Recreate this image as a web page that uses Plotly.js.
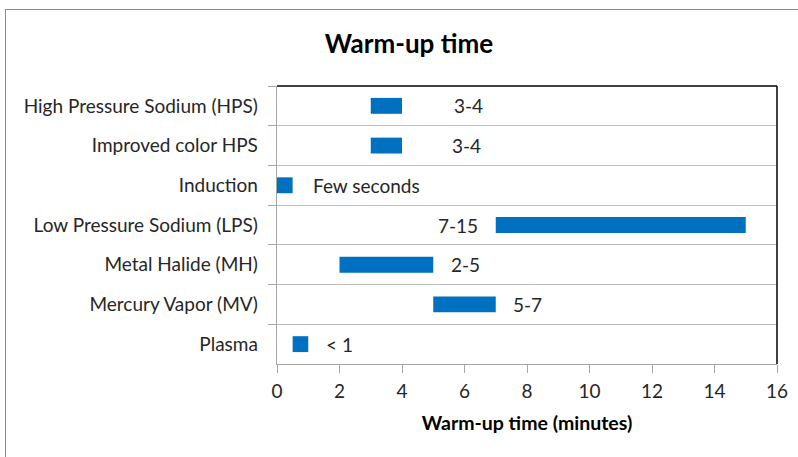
<!DOCTYPE html>
<html>
<head>
<meta charset="utf-8">
<script src="https://cdn.plot.ly/plotly-3.0.1.min.js"></script>
<style>
  html, body { margin: 0; padding: 0; background: #fff; }
  #chart { width: 798px; height: 457px; position: absolute; left: 0; top: 0; }
  #frame { position: absolute; left: 5px; top: 9px; width: 800px; height: 460px; border: 1px solid #8c8c8c; pointer-events: none; }
</style>
</head>
<body>
<div id="chart"></div>
<div id="frame"></div>
<script>
// Data
const categories = [
  "High Pressure Sodium (HPS)",
  "Improved color HPS",
  "Induction",
  "Low Pressure Sodium (LPS)",
  "Metal Halide (MH)",
  "Mercury Vapor (MV)",
  "Plasma"
];
const startMinutes = [3, 3, 0, 7, 2, 5, 0.5];
const endMinutes   = [4, 4, 0.5, 15, 5, 7, 1];
const labelText    = ["3-4", "3-4", "Few seconds", "7-15", "2-5", "5-7", "< 1"];
const labelX       = [5.6, 5.55, 1.1, 6.5, 5.5, 7.5, 1.5];
const labelAnchor  = ["left", "left", "left", "right", "left", "left", "left"];
const xTicks       = [0, 2, 4, 6, 8, 10, 12, 14, 16];

const FONT = "Lato, 'Open Sans', sans-serif";
const durations = endMinutes.map((e, i) => e - startMinutes[i]);

const trace = {
  type: "bar",
  orientation: "h",
  y: categories,
  x: durations,
  base: startMinutes,
  width: 0.4,
  marker: { color: "#0070C0" },
  hoverinfo: "skip"
};

const annotations = categories.map((c, i) => ({
  x: labelX[i], y: c, xref: "x", yref: "y",
  text: labelText[i], showarrow: false,
  xanchor: labelAnchor[i], yanchor: "middle",
  font: { family: FONT, size: 19, color: "#262626" }
}));

const layout = {
  width: 798, height: 457,
  margin: { l: 277, r: 21, t: 86, b: 93 },
  paper_bgcolor: "#ffffff", plot_bgcolor: "#ffffff",
  showlegend: false,
  title: {
    text: "<b>Warm-up time</b>",
    x: 0.5125, xref: "container", xanchor: "center",
    y: 0.905, yref: "container", yanchor: "middle",
    font: { family: FONT, size: 26, color: "#000000" }
  },
  xaxis: {
    range: [0, 16], tickvals: xTicks, ticktext: xTicks.map(String),
    showgrid: false, zeroline: false,
    showline: true, linecolor: "#a6a6a6", linewidth: 1.3,
    ticks: "outside", ticklen: 8, tickcolor: "#a6a6a6",
    ticklabelstandoff: 2,
    tickfont: { family: FONT, size: 19, color: "#262626" },
    title: { text: "<b>Warm-up time (minutes)</b>", standoff: 15,
             font: { family: FONT, size: 19.5, color: "#000000" } }
  },
  yaxis: {
    type: "category", categoryorder: "array", categoryarray: categories,
    autorange: "reversed",
    tickson: "boundaries",
    showgrid: true, gridcolor: "#bfbfbf", gridwidth: 1,
    showline: true, linecolor: "#a6a6a6", linewidth: 1.3,
    ticks: "outside", ticklen: 8, tickcolor: "#a6a6a6",
    ticklabelstandoff: 14,
    tickfont: { family: FONT, size: 19, color: "#262626" },
    zeroline: false
  },
  shapes: [
    { type: "line", xref: "paper", yref: "paper", x0: 0, x1: 1, y0: 1, y1: 1,
      line: { color: "#000000", width: 1.5 } },
    { type: "line", xref: "paper", yref: "paper", x0: 1, x1: 1, y0: 0, y1: 1,
      line: { color: "#000000", width: 1.5 } }
  ],
  annotations: annotations
};

Plotly.newPlot("chart", [trace], layout, { displayModeBar: false, staticPlot: true });
</script>
</body>
</html>
